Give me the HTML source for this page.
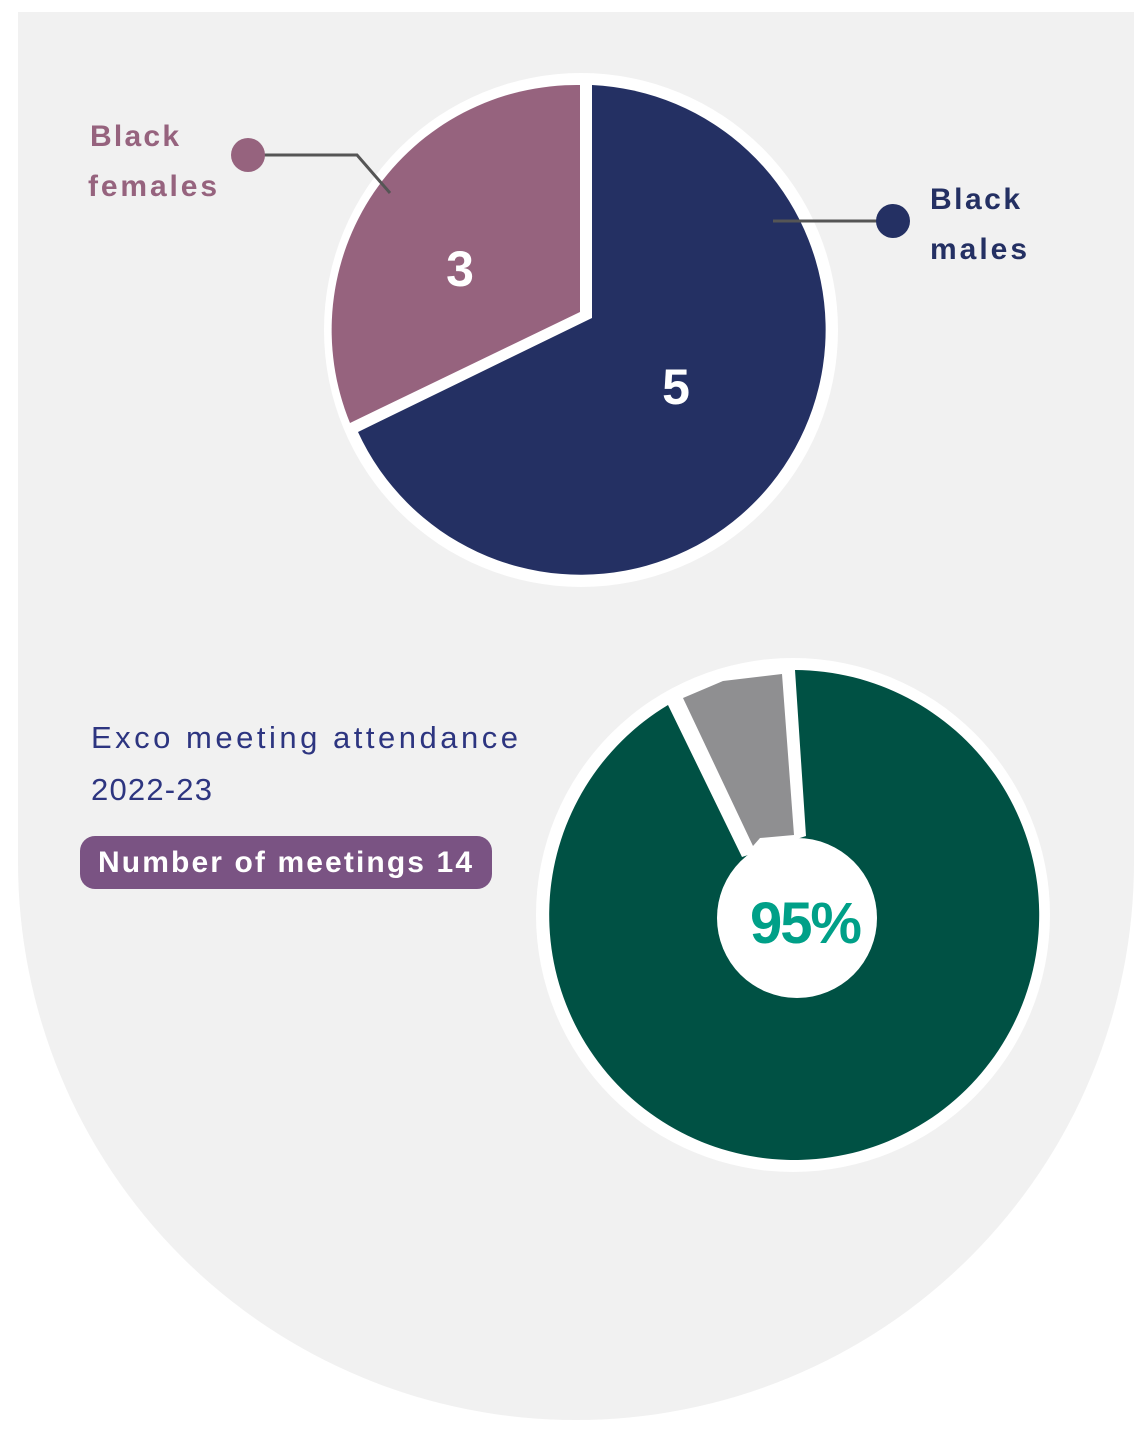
<!DOCTYPE html>
<html><head><meta charset="utf-8"><style>
html,body{margin:0;padding:0;background:#fff;}
svg{display:block;}
text{font-family:"Liberation Sans",sans-serif;}
</style></head><body>
<svg width="1134" height="1433" viewBox="0 0 1134 1433">
<path d="M18,12 L1134,12 L1134,862 A558,558 0 0,1 18,862 Z" fill="#f1f1f1"/>
<!-- pie 1 -->
<circle cx="581" cy="330" r="257" fill="#fff"/>
<path d="M592,85 A245,245 0 1,1 358,432 L592,318 Z" fill="#243063"/>
<path d="M580,85 L580,312 L350,423 A245,245 0 0,1 580,85 Z" fill="#96637e"/>
<text x="460" y="286" font-size="50" font-weight="bold" fill="#fff" text-anchor="middle">3</text>
<text x="676" y="404" font-size="50" font-weight="bold" fill="#fff" text-anchor="middle">5</text>
<polyline points="264,155 357,155 390,193" fill="none" stroke="#555" stroke-width="3"/>
<circle cx="248" cy="155" r="17" fill="#96637e"/>
<text x="90" y="146" font-size="30" font-weight="bold" fill="#96637e" textLength="89">Black</text>
<text x="88" y="196" font-size="30" font-weight="bold" fill="#96637e" textLength="129">females</text>
<line x1="773" y1="221" x2="880" y2="221" stroke="#555" stroke-width="3"/>
<circle cx="893" cy="221" r="17" fill="#243063"/>
<text x="930" y="209" font-size="30" font-weight="bold" fill="#243063" textLength="90">Black</text>
<text x="930" y="259" font-size="30" font-weight="bold" fill="#243063" textLength="97">males</text>
<!-- pie 2 -->
<circle cx="793" cy="915" r="257" fill="#fff"/>
<path d="M795,670 A245,245 0 1,1 668,705 L742,857 L806,836 Z" fill="#005144"/>
<polygon points="683,698 723,681 782,674 794,835 760,838 753,846" fill="#8f8f91"/>
<circle cx="797" cy="918" r="80" fill="#fff"/>
<text x="806" y="943" font-size="58" font-weight="bold" fill="#00a088" text-anchor="middle" textLength="112">95%</text>
<text x="91" y="748" font-size="31" fill="#2d3580" textLength="427">Exco meeting attendance</text>
<text x="91" y="800" font-size="31" fill="#2d3580" textLength="121">2022-23</text>
<rect x="80" y="836" width="412" height="53" rx="15" fill="#7a5383"/>
<text x="98" y="872" font-size="30" font-weight="bold" fill="#fff" textLength="374">Number of meetings 14</text>
</svg>
</body></html>
